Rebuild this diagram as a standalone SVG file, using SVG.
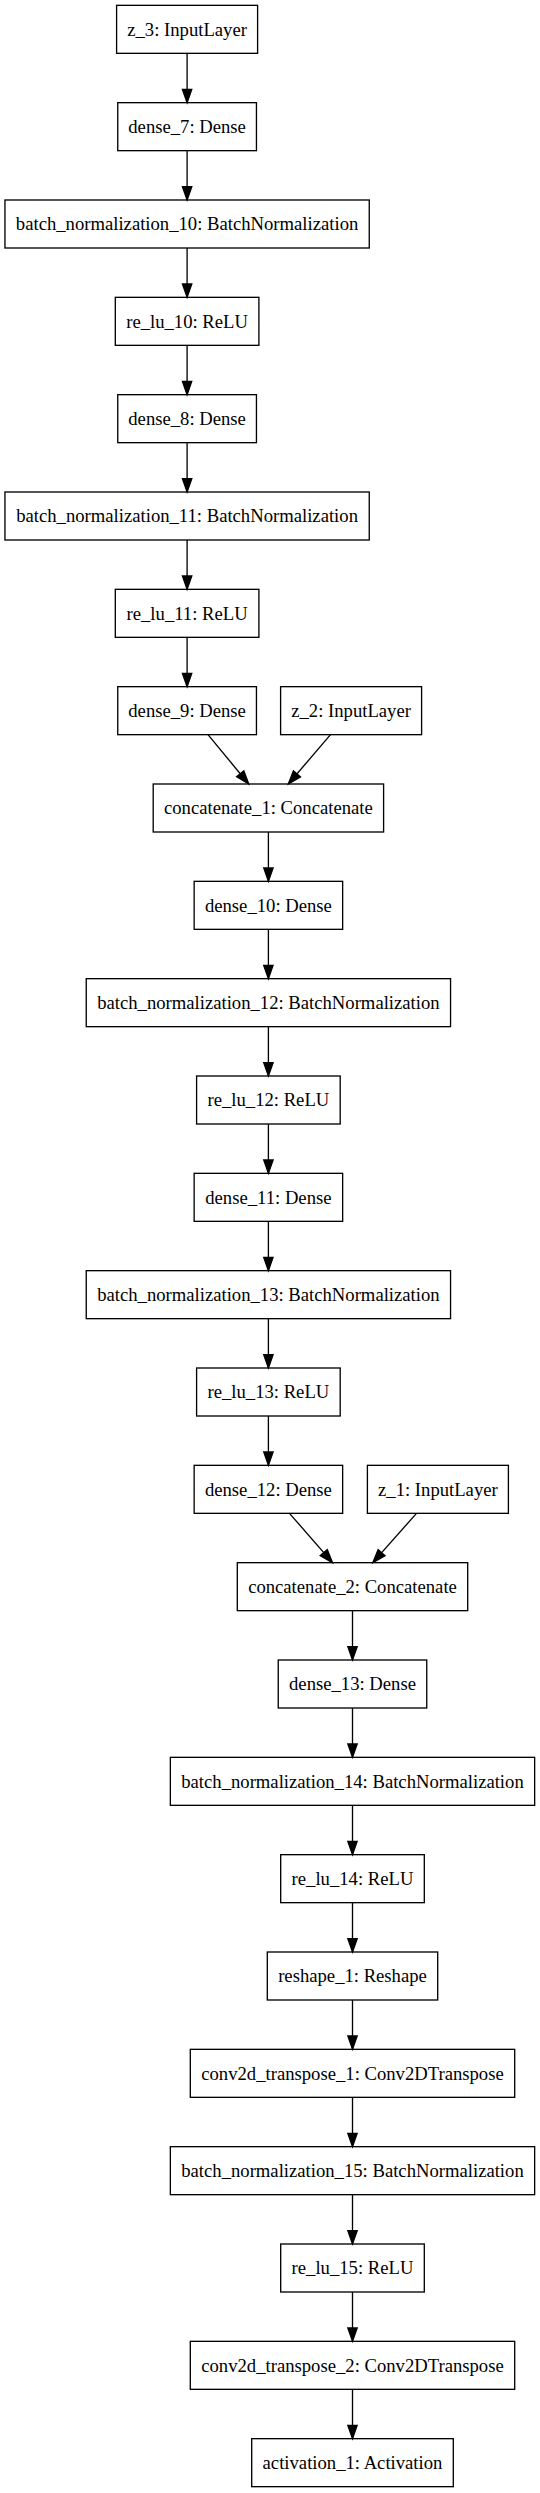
<svg xmlns="http://www.w3.org/2000/svg" width="540" height="2493" viewBox="0 0 540 2493">
<style>
.n rect{fill:#fff;stroke:#000;stroke-width:1.33}
.n text{font-family:"Liberation Serif","Times New Roman",serif;font-size:18.67px;text-anchor:middle;fill:#000}
.e line{stroke:#000;stroke-width:1.33;marker-end:url(#ah)}
</style>
<defs>
<marker id="ah" markerUnits="userSpaceOnUse" markerWidth="16" markerHeight="12" refX="14" refY="6" orient="auto" overflow="visible">
<path d="M0.67,1.33 L14,6 L0.67,10.67 Z" fill="#000" stroke="#000" stroke-width="1.33"/>
</marker>
</defs>
<rect x="0" y="0" width="540" height="2493" fill="#fff"/>
<g id="z_3" class="n"><rect x="116.6" y="5.33" width="141" height="48"/><text x="187.1" y="35.5">z_3: InputLayer</text></g>
<g id="dense_7" class="n"><rect x="117.75" y="102.67" width="138.7" height="48"/><text x="187.1" y="132.87">dense_7: Dense</text></g>
<g id="batch_normalization_10" class="n"><rect x="4.95" y="200" width="364.3" height="48"/><text x="187.1" y="230.2">batch_normalization_10: BatchNormalization</text></g>
<g id="re_lu_10" class="n"><rect x="115.3" y="297.33" width="143.6" height="48"/><text x="187.1" y="327.53">re_lu_10: ReLU</text></g>
<g id="dense_8" class="n"><rect x="117.75" y="394.67" width="138.7" height="48"/><text x="187.1" y="424.87">dense_8: Dense</text></g>
<g id="batch_normalization_11" class="n"><rect x="4.95" y="492" width="364.3" height="48"/><text x="187.1" y="522.2">batch_normalization_11: BatchNormalization</text></g>
<g id="re_lu_11" class="n"><rect x="115.3" y="589.33" width="143.6" height="48"/><text x="187.1" y="619.53">re_lu_11: ReLU</text></g>
<g id="dense_9" class="n"><rect x="117.75" y="686.67" width="138.7" height="48"/><text x="187.1" y="716.87">dense_9: Dense</text></g>
<g id="z_2" class="n"><rect x="280.6" y="686.67" width="141" height="48"/><text x="351.1" y="716.87">z_2: InputLayer</text></g>
<g id="concatenate_1" class="n"><rect x="153.2" y="784" width="230.4" height="48"/><text x="268.4" y="814.2">concatenate_1: Concatenate</text></g>
<g id="dense_10" class="n"><rect x="194.15" y="881.33" width="148.5" height="48"/><text x="268.4" y="911.53">dense_10: Dense</text></g>
<g id="batch_normalization_12" class="n"><rect x="86.25" y="978.67" width="364.3" height="48"/><text x="268.4" y="1008.87">batch_normalization_12: BatchNormalization</text></g>
<g id="re_lu_12" class="n"><rect x="196.6" y="1076" width="143.6" height="48"/><text x="268.4" y="1106.2">re_lu_12: ReLU</text></g>
<g id="dense_11" class="n"><rect x="194.15" y="1173.33" width="148.5" height="48"/><text x="268.4" y="1203.53">dense_11: Dense</text></g>
<g id="batch_normalization_13" class="n"><rect x="86.25" y="1270.67" width="364.3" height="48"/><text x="268.4" y="1300.87">batch_normalization_13: BatchNormalization</text></g>
<g id="re_lu_13" class="n"><rect x="196.6" y="1368" width="143.6" height="48"/><text x="268.4" y="1398.2">re_lu_13: ReLU</text></g>
<g id="dense_12" class="n"><rect x="194.15" y="1465.33" width="148.5" height="48"/><text x="268.4" y="1495.53">dense_12: Dense</text></g>
<g id="z_1" class="n"><rect x="367.4" y="1465.33" width="141" height="48"/><text x="437.9" y="1495.53">z_1: InputLayer</text></g>
<g id="concatenate_2" class="n"><rect x="237.3" y="1562.67" width="230.4" height="48"/><text x="352.5" y="1592.87">concatenate_2: Concatenate</text></g>
<g id="dense_13" class="n"><rect x="278.25" y="1660" width="148.5" height="48"/><text x="352.5" y="1690.2">dense_13: Dense</text></g>
<g id="batch_normalization_14" class="n"><rect x="170.35" y="1757.33" width="364.3" height="48"/><text x="352.5" y="1787.53">batch_normalization_14: BatchNormalization</text></g>
<g id="re_lu_14" class="n"><rect x="280.7" y="1854.67" width="143.6" height="48"/><text x="352.5" y="1884.87">re_lu_14: ReLU</text></g>
<g id="reshape_1" class="n"><rect x="267.3" y="1952" width="170.4" height="48"/><text x="352.5" y="1982.2">reshape_1: Reshape</text></g>
<g id="conv2d_transpose_1" class="n"><rect x="190.3" y="2049.33" width="324.4" height="48"/><text x="352.5" y="2079.53">conv2d_transpose_1: Conv2DTranspose</text></g>
<g id="batch_normalization_15" class="n"><rect x="170.35" y="2146.67" width="364.3" height="48"/><text x="352.5" y="2176.87">batch_normalization_15: BatchNormalization</text></g>
<g id="re_lu_15" class="n"><rect x="280.7" y="2244" width="143.6" height="48"/><text x="352.5" y="2274.2">re_lu_15: ReLU</text></g>
<g id="conv2d_transpose_2" class="n"><rect x="190.3" y="2341.33" width="324.4" height="48"/><text x="352.5" y="2371.53">conv2d_transpose_2: Conv2DTranspose</text></g>
<g id="activation_1" class="n"><rect x="251.7" y="2438.67" width="201.6" height="48"/><text x="352.5" y="2468.87">activation_1: Activation</text></g>
<g id="connectors" class="e">
<line x1="187.1" y1="53.33" x2="187.1" y2="102.67"/>
<line x1="187.1" y1="150.67" x2="187.1" y2="200"/>
<line x1="187.1" y1="248" x2="187.1" y2="297.33"/>
<line x1="187.1" y1="345.33" x2="187.1" y2="394.67"/>
<line x1="187.1" y1="442.67" x2="187.1" y2="492"/>
<line x1="187.1" y1="540" x2="187.1" y2="589.33"/>
<line x1="187.1" y1="637.33" x2="187.1" y2="686.67"/>
<line x1="208" y1="734.67" x2="248.7" y2="784"/>
<line x1="330.5" y1="734.67" x2="288.3" y2="784"/>
<line x1="268.4" y1="832" x2="268.4" y2="881.33"/>
<line x1="268.4" y1="929.33" x2="268.4" y2="978.67"/>
<line x1="268.4" y1="1026.67" x2="268.4" y2="1076"/>
<line x1="268.4" y1="1124" x2="268.4" y2="1173.33"/>
<line x1="268.4" y1="1221.33" x2="268.4" y2="1270.67"/>
<line x1="268.4" y1="1318.67" x2="268.4" y2="1368"/>
<line x1="268.4" y1="1416" x2="268.4" y2="1465.33"/>
<line x1="289.5" y1="1513.33" x2="332.5" y2="1562.67"/>
<line x1="416.5" y1="1513.33" x2="372.8" y2="1562.67"/>
<line x1="352.5" y1="1610.67" x2="352.5" y2="1660"/>
<line x1="352.5" y1="1708" x2="352.5" y2="1757.33"/>
<line x1="352.5" y1="1805.33" x2="352.5" y2="1854.67"/>
<line x1="352.5" y1="1902.67" x2="352.5" y2="1952"/>
<line x1="352.5" y1="2000" x2="352.5" y2="2049.33"/>
<line x1="352.5" y1="2097.33" x2="352.5" y2="2146.67"/>
<line x1="352.5" y1="2194.67" x2="352.5" y2="2244"/>
<line x1="352.5" y1="2292" x2="352.5" y2="2341.33"/>
<line x1="352.5" y1="2389.33" x2="352.5" y2="2438.67"/>
</g>
</svg>
